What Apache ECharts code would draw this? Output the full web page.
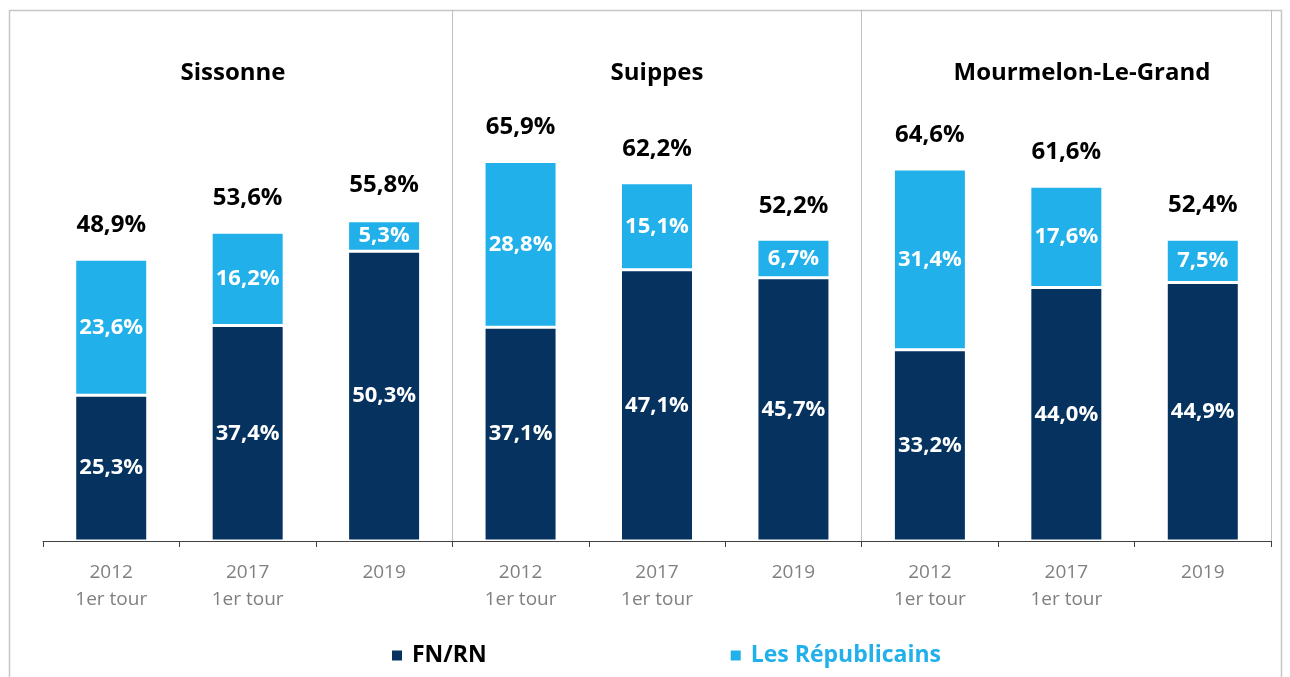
<!DOCTYPE html>
<html>
<head>
<meta charset="utf-8">
<script src="https://cdn.jsdelivr.net/npm/echarts@6/dist/echarts.min.js"></script>
<style>
html,body{margin:0;padding:0;background:#fff;}
#c{width:1290px;height:677px;}
</style>
</head>
<body>
<div id="c"></div>
<script>
const cities = ['Sissonne', 'Suippes', 'Mourmelon-Le-Grand'];
const years = ['2012\n1er tour', '2017\n1er tour', '2019'];
const fnrn = [25.3, 37.4, 50.3, 37.1, 47.1, 45.7, 33.2, 44.0, 44.9];
const lr = [23.6, 16.2, 5.3, 28.8, 15.1, 6.7, 31.4, 17.6, 7.5];
const totals = [48.9, 53.6, 55.8, 65.9, 62.2, 52.2, 64.6, 61.6, 52.4];
const titleX = [233, 657, 1082];

const categories = [];
cities.forEach(c => years.forEach(y => categories.push(c + '|' + y)));

const fmt = v => v.toFixed(1).replace('.', ',') + '%';
const FONT = 'Open Sans';
const NAVY = '#06325F';
const LIGHT = '#22B0EA';

const chart = echarts.init(document.getElementById('c'), null, {renderer: 'canvas'});
chart.setOption({
  animation: false,
  backgroundColor: '#fff',
  grid: {left: 43, right: 19, top: 10, bottom: 136, containLabel: false},
  xAxis: {
    type: 'category',
    data: categories,
    axisLine: {lineStyle: {color: '#404040', width: 1}},
    axisTick: {show: true, interval: 0, length: 6, lineStyle: {color: '#404040'}},
    axisLabel: {
      interval: 0, margin: 18,
      formatter: v => v.split('|')[1],
      color: '#808080', fontFamily: FONT, fontSize: 19, lineHeight: 27
    },
    splitLine: {show: true, interval: (i) => i === 3 || i === 6, lineStyle: {color: '#bfbfbf', width: 1}}
  },
  yAxis: {type: 'value', min: 0, max: 92.2, show: false, splitLine: {show: false}},
  legend: {
    left: 385, top: 639,
    data: [
      {name: 'FN/RN', textStyle: {color: '#000'}},
      {name: 'Les Républicains', textStyle: {color: LIGHT}}
    ],
    icon: 'rect', itemWidth: 12, itemHeight: 12, itemGap: 242,
    textStyle: {fontFamily: FONT, fontWeight: 'bold', fontSize: 23, padding: [0, 0, 0, 4]}
  },
  graphic: [
    {type: 'rect', shape: {x: 9.5, y: 10.5, width: 1272, height: 700}, style: {fill: 'none', stroke: '#c6c6c6', lineWidth: 1.5}, silent: true, z: -1},
    ...cities.map((c, i) => ({
      type: 'text', x: titleX[i], y: 73,
      style: {text: c, textAlign: 'center', textVerticalAlign: 'middle', font: 'bold 24px "Open Sans"', fill: '#000'}
    }))
  ],
  series: [
    {
      name: 'FN/RN', type: 'bar', stack: 'a', data: fnrn, barWidth: 73,
      itemStyle: {color: NAVY, borderColor: '#fff', borderWidth: 1.5},
      label: {show: true, position: 'inside', color: '#fff', fontFamily: FONT, fontWeight: 'bold', fontSize: 22, formatter: p => fmt(p.value)},
      emphasis: {disabled: true}
    },
    {
      name: 'Les Républicains', type: 'bar', stack: 'a', data: lr, barWidth: 73,
      itemStyle: {color: LIGHT, borderColor: '#fff', borderWidth: 1.5},
      label: {show: true, position: 'inside', color: '#fff', fontFamily: FONT, fontWeight: 'bold', fontSize: 22, formatter: p => fmt(p.value)},
      emphasis: {disabled: true}
    },
    {
      name: 'Total', type: 'bar', data: totals, barWidth: 73, barGap: '-100%', silent: true,
      itemStyle: {color: 'rgba(0,0,0,0)'},
      label: {show: true, position: 'top', distance: 22, color: '#000', fontFamily: FONT, fontWeight: 'bold', fontSize: 24, formatter: p => fmt(p.value)},
      emphasis: {disabled: true}, z: 5
    }
  ]
});
</script>
</body>
</html>
